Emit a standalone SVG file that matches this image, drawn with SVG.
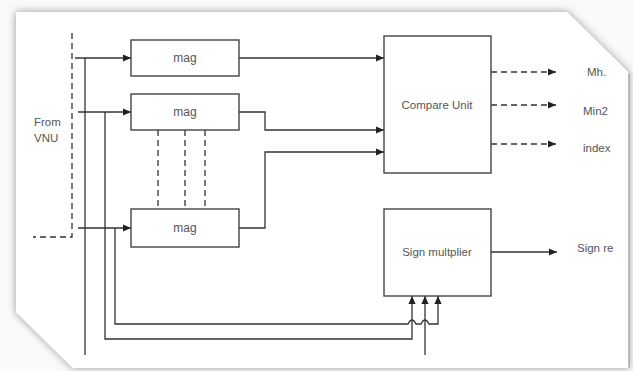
<svg xmlns="http://www.w3.org/2000/svg" width="633" height="371" viewBox="0 0 633 371">
<defs>
<filter id="sh" x="-10%" y="-10%" width="120%" height="120%">
<feDropShadow dx="0" dy="0" stdDeviation="4" flood-color="#000" flood-opacity="0.4"/>
</filter>
<marker id="ah" viewBox="0 0 10 10" refX="10" refY="5" markerWidth="8" markerHeight="8" markerUnits="userSpaceOnUse" orient="auto">
<path d="M0,0.5 L10,5 L0,9.5 Z" fill="#222"/>
</marker>
<style>
.box{fill:#fff;stroke:#444;stroke-width:1.4}
.ln{fill:none;stroke:#333;stroke-width:1.3}
.ds{fill:none;stroke:#333;stroke-width:1.3;stroke-dasharray:6 4}
.t{font-family:"Liberation Sans",Arial,sans-serif;font-size:11.5px;fill:#555}
.c{text-anchor:middle}
</style>
</defs>
<rect width="633" height="371" fill="#fafafa"/>
<polygon points="16,12 567,12 629,73 629,368 73,368 16,312" fill="#fff" filter="url(#sh)"/>
<line x1="629" y1="73" x2="629" y2="368" stroke="#aaa" stroke-width="1.5"/>

<g id="connectors">
<path class="ds" d="M72,33 V237 H33"/>
<path class="ln" d="M85,58 V355"/>
<path class="ln" d="M75,58 H131" marker-end="url(#ah)"/>
<path class="ln" d="M78,112 H131" marker-end="url(#ah)"/>
<path class="ln" d="M105,112 V339 H412 V296" marker-end="url(#ah)"/>
<path class="ln" d="M78,228 H131" marker-end="url(#ah)"/>
<path class="ln" d="M115,228 V324 H408 Q412,316 416,324 H421 Q425,316 429,324 H438 V296" marker-end="url(#ah)"/>
<path class="ln" d="M425,355 V296" marker-end="url(#ah)"/>
<path class="ln" d="M239,58 H384" marker-end="url(#ah)"/>
<path class="ln" d="M239,112 H265 V130 H384" marker-end="url(#ah)"/>
<path class="ln" d="M239,228 H265 V152 H384" marker-end="url(#ah)"/>
<path class="ds" d="M158,130 V209 M185,130 V209 M205,130 V209"/>
<path class="ds" d="M491,72 H556" marker-end="url(#ah)"/>
<path class="ds" d="M491,105 H556" marker-end="url(#ah)"/>
<path class="ds" d="M491,144 H556" marker-end="url(#ah)"/>
<path class="ln" d="M491,252 H557" marker-end="url(#ah)"/>
</g>

<g id="mag1"><rect class="box" x="131" y="40" width="108" height="36"/><text class="t c" x="185" y="62" style="font-size:12px">mag</text></g>
<g id="mag2"><rect class="box" x="131" y="94" width="108" height="36"/><text class="t c" x="185" y="116" style="font-size:12px">mag</text></g>
<g id="mag3"><rect class="box" x="131" y="209" width="108" height="38"/><text class="t c" x="185" y="232" style="font-size:12px">mag</text></g>
<g id="compare"><rect class="box" x="384" y="36" width="107" height="137"/><text class="t c" x="437" y="109">Compare Unit</text></g>
<g id="sign"><rect class="box" x="384" y="209" width="107" height="87"/><text class="t c" x="437" y="256">Sign multplier</text></g>

<g id="labels">
<text class="t" x="34" y="126">From</text>
<text class="t" x="34" y="142">VNU</text>
<text class="t" x="587" y="76">Mh.</text>
<text class="t" x="583" y="115">Min2</text>
<text class="t" x="583" y="152">index</text>
<text class="t" x="577" y="252">Sign re</text>
</g>
</svg>
